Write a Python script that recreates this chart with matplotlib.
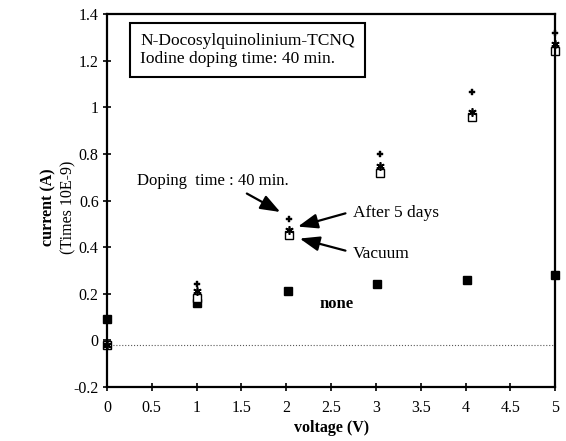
import numpy as np
import matplotlib.pyplot as plt

plt.rcParams['font.family'] = ['Liberation Serif', 'DejaVu Serif']

# voltage (V) and current (x 1E-9 A) per condition
v_doped = [0, 1, 2.03, 3.05, 4.07, 5]
v_after = [0, 1, 2.03, 3.05, 4.07, 5]
v_vacuum = [0, 1, 2.03, 3.05, 4.07, 5]
v_none = [0, 1, 2.02, 3.01, 4.02, 5]

i_doped = [-0.02, 0.24, 0.52, 0.80, 1.065, 1.32]
i_after = [-0.02, 0.21, 0.475, 0.75, 0.98, 1.27]
i_vacuum = [-0.02, 0.18, 0.45, 0.72, 0.96, 1.24]
i_none = [0.09, 0.16, 0.21, 0.24, 0.26, 0.28]

xticks = [0, 0.5, 1, 1.5, 2, 2.5, 3, 3.5, 4, 4.5, 5]
xticklabels = ['0', '0.5', '1', '1.5', '2', '2.5', '3', '3.5', '4', '4.5', '5']
yticks = [-0.2, 0, 0.2, 0.4, 0.6, 0.8, 1, 1.2, 1.4]
yticklabels = ['-0.2', '0', '0.2', '0.4', '0.6', '0.8', '1', '1.2', '1.4']

fig = plt.figure(figsize=(5.66, 4.41), dpi=100)
ax = fig.add_axes([0.189, 0.1224, 0.792, 0.8458])

ax.axhline(-0.02, color='0.35', lw=0.8, ls=':', zorder=1)

ax.plot(v_none, i_none, ls='none', marker='s', ms=6, mfc='black', mec='black', clip_on=False)
ax.plot(v_vacuum, i_vacuum, ls='none', marker='s', ms=5.5, mfc='white', mec='black', mew=1.0, clip_on=False)
ax.plot(v_after, i_after, ls='none', marker=(6, 2, 0), ms=6, color='black', mew=1.2, clip_on=False)
ax.plot(v_doped, i_doped, ls='none', marker='P', ms=5, mfc='black', mec='black', mew=0.3, clip_on=False)

ax.set_xlim(0, 5)
ax.set_ylim(-0.2, 1.4)
ax.set_xticks(xticks)
ax.set_xticklabels(xticklabels)
ax.set_yticks(yticks)
ax.set_yticklabels(yticklabels)
ax.tick_params(direction='inout', length=6, width=1.2, labelsize=11.5)
ax.tick_params(axis='x', top=False, pad=6)
ax.tick_params(axis='y', right=False, pad=3)
for s in ax.spines.values():
    s.set_linewidth(1.6)

ax.set_xlabel('voltage (V)', fontsize=11.5, fontweight='bold', labelpad=3)
fig.text(0.085, 0.53, 'current (A)', rotation=90, ha='center', va='center',
         fontsize=11.5, fontweight='bold')
fig.text(0.12, 0.53, '(Times 10E-9)', rotation=90, ha='center', va='center',
         fontsize=11.5)

ax.text(0.37, 1.245, 'N-Docosylquinolinium-TCNQ\nIodine doping time: 40 min.',
        fontsize=12.5, ha='left', va='center', linespacing=1.15,
        bbox=dict(boxstyle='square,pad=0.6', fc='white', ec='black', lw=1.5))

ax.text(0.34, 0.685, 'Doping  time : 40 min.', fontsize=12, ha='left', va='center')
ax.text(2.74, 0.545, 'After 5 days', fontsize=12.5, ha='left', va='center')
ax.text(2.74, 0.37, 'Vacuum', fontsize=12.5, ha='left', va='center')
ax.text(2.37, 0.155, 'none', fontsize=12, ha='left', va='center', fontweight='bold')

arrow = dict(arrowstyle='-|>,head_length=1.2,head_width=0.45', color='black', lw=1.6,
             shrinkA=0, shrinkB=2)
ax.annotate('', xy=(1.96, 0.545), xytext=(1.56, 0.63), arrowprops=arrow)
ax.annotate('', xy=(2.1, 0.485), xytext=(2.66, 0.545), arrowprops=arrow)
ax.annotate('', xy=(2.12, 0.44), xytext=(2.66, 0.385), arrowprops=arrow)

fig.savefig('out.png', dpi=100)
